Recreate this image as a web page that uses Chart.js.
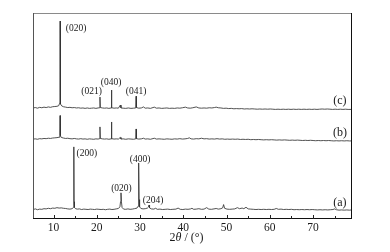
<!DOCTYPE html>
<html lang="en">
<head>
<meta charset="UTF-8" />
<title>XRD patterns</title>
<script src="https://cdn.jsdelivr.net/npm/chart.js@4.4.1/dist/chart.umd.min.js"></script>
<style>
  html, body { margin: 0; padding: 0; background: #fff; }
  #wrap { width: 390px; height: 252px; }
</style>
</head>
<body>
<div id="wrap"><canvas id="xrd"></canvas></div>
<script>
// 2theta range
const angleMin = 5.26;
const angleMax = 79;

// vertical offsets of the stacked patterns (a), (b), (c)
const offsets = [4.4, 38.6, 53.6];
const seriesNames = ["(a)", "(b)", "(c)"];

// pattern (a): [2theta, relative intensity]
const patternA = [
  [5.3,0.2],[5.8,0.5],[6.3,0.1],[6.8,0.4],[7.3,0.3],[7.8,0.6],[8.3,0.5],[8.8,0.8],[9.3,0.6],[9.8,0.9],
  [10.3,0.8],[10.8,1.1],[11.3,0.9],[11.8,1.0],[12.3,0.8],[12.8,0.7],[13.3,0.5],[13.8,0.4],[14.3,0.6],
  [14.6,1.2],[14.68,4],[14.72,30.6],[14.76,4],[14.85,1.2],[15.1,0.6],[15.5,0.4],[16.0,0.5],[16.5,0.2],
  [17.0,0.4],[17.5,0.3],[18.0,0.2],[18.5,0.4],[19.0,0.3],[19.5,0.2],[20.0,0.4],[20.5,0.3],[21.0,0.2],
  [21.5,0.3],[22.0,0.1],[22.5,0.3],[23.0,0.4],[23.5,0.2],[24.0,0.3],[24.5,0.5],[25.0,0.7],[25.35,1.5],
  [25.5,4.0],[25.6,8.3],[25.7,4.0],[25.85,1.2],[26.2,0.4],[26.7,0.3],[27.2,0.5],[27.7,0.3],[28.2,0.4],
  [28.7,0.6],[29.3,0.9],[29.55,1.8],[29.65,6],[29.72,22.8],[29.79,5],[29.9,1.5],[30.2,0.7],[30.7,0.5],
  [31.2,0.6],[31.7,0.9],[31.95,1.4],[32.08,2.4],[32.2,1.0],[32.6,0.5],[33.2,0.4],[33.6,0.8],[34.0,0.3],
  [34.6,0.4],[35.2,0.2],[35.8,0.3],[36.4,0.4],[37.0,0.2],[37.6,0.3],[38.3,0.4],[38.8,0.9],[39.3,0.3],
  [39.9,0.2],[40.5,0.4],[41.1,0.3],[41.7,0.5],[42.0,0.8],[42.4,0.3],[43.0,0.4],[43.6,0.6],[44.2,0.3],
  [44.8,0.4],[45.4,1.1],[45.9,0.4],[46.5,0.3],[47.1,0.5],[47.6,0.7],[48.1,0.4],[48.7,0.6],[49.1,1.0],
  [49.32,2.6],[49.55,0.8],[50.1,0.4],[50.7,0.3],[51.3,0.4],[51.9,0.5],[52.5,1.1],[53.0,0.6],[53.6,0.9],
  [54.0,0.6],[54.5,1.3],[55.0,0.5],[55.6,0.4],[56.2,0.3],[56.8,0.2],[57.4,0.3],[58.0,0.2],[58.6,0.3],
  [59.2,0.2],[59.8,0.3],[60.4,0.2],[61.0,0.3],[61.5,0.7],[62.0,0.3],[62.6,0.4],[63.2,0.2],[63.8,0.3],
  [64.4,0.2],[65.0,0.3],[65.6,0.1],[66.2,0.2],[66.8,0.1],[67.4,0.2],[68.0,0.1],[68.6,0.2],[69.2,0.1],
  [69.8,0.2],[70.4,0.1],[71.0,0.0],[71.6,0.1],[72.2,0.0],[72.8,0.1],[73.4,0.0],[74.0,0.1],[74.6,0.2],
  [75.0,0.5],[75.4,0.1],[76.0,-0.1],[76.6,0.0],[77.2,-0.1],[77.8,0.0],[78.4,-0.1],[79.0,0.0]
];

// pattern (b)
const patternB = [
  [5.3,0.2],[5.8,0.3],[6.3,0.1],[6.8,0.4],[7.3,0.3],[7.8,0.5],[8.3,0.4],[8.8,0.6],[9.3,0.5],[9.8,0.7],
  [10.3,0.8],[10.8,0.9],[11.3,1.1],[11.47,2.0],[11.53,11.6],[11.59,1.8],[11.8,1.0],[12.3,0.7],[12.8,0.5],
  [13.3,0.6],[13.8,0.4],[14.3,0.3],[14.8,0.5],[15.3,0.3],[15.8,0.2],[16.3,0.4],[16.8,0.2],[17.3,0.3],
  [17.8,0.1],[18.3,0.3],[18.8,0.2],[19.3,0.1],[19.8,0.3],[20.3,0.2],[20.65,0.4],[20.74,6.1],[20.83,0.5],
  [21.3,0.3],[21.8,0.2],[22.3,0.3],[22.8,0.1],[23.3,0.3],[23.39,8.5],[23.48,0.4],[24.0,0.2],[24.5,0.3],
  [25.0,0.2],[25.45,1.0],[25.6,0.2],[26.1,0.3],[26.7,0.1],[27.3,0.3],[27.9,0.2],[28.5,0.1],[29.0,0.3],
  [29.09,5.1],[29.18,0.4],[29.7,0.2],[30.3,0.3],[30.8,0.6],[31.2,0.2],[31.8,0.3],[32.4,0.1],[33.3,0.6],
  [33.8,0.2],[34.4,0.3],[35.0,0.2],[35.6,0.1],[36.2,0.3],[36.8,0.2],[37.4,0.1],[38.0,0.3],[38.6,0.2],
  [39.2,0.4],[39.8,0.2],[40.4,0.3],[41.0,0.5],[41.4,0.8],[41.8,0.3],[42.4,0.2],[43.0,0.4],[43.6,0.3],
  [44.2,0.6],[44.8,0.3],[45.4,0.4],[46.0,0.2],[46.6,0.3],[47.2,0.2],[47.8,0.4],[48.4,0.2],[49.0,0.3],
  [49.6,0.1],[50.2,0.2],[50.8,0.1],[51.4,0.2],[52.0,0.1],[52.6,0.2],[53.2,0.0],[53.8,0.1],[54.4,0.0],
  [55.0,0.1],[55.6,-0.1],[56.2,0.0],[56.8,-0.1],[57.4,0.0],[58.0,-0.1],[58.6,-0.2],[59.2,-0.1],
  [59.8,-0.2],[60.4,-0.1],[61.0,-0.2],[61.6,-0.3],[62.2,-0.2],[62.8,-0.3],[63.4,-0.2],[64.0,-0.3],
  [64.6,-0.4],[65.2,-0.3],[65.8,-0.4],[66.4,-0.3],[67.0,-0.4],[67.6,-0.5],[68.2,-0.4],[68.8,-0.5],
  [69.4,-0.4],[70.0,-0.5],[70.6,-0.6],[71.2,-0.5],[71.8,-0.6],[72.4,-0.5],[73.0,-0.6],[73.6,-0.5],
  [74.2,-0.6],[74.8,-0.7],[75.4,-0.6],[76.0,-0.7],[76.6,-0.6],[77.2,-0.7],[77.8,-0.6],[78.4,-0.7],[79.0,-0.7]
];

// pattern (c)
const patternC = [
  [5.3,0.3],[5.8,0.5],[6.3,0.2],[6.8,0.6],[7.3,0.4],[7.8,0.7],[8.3,0.5],[8.8,0.8],[9.3,0.6],[9.8,0.9],
  [10.3,1.0],[10.8,1.1],[11.2,1.4],[11.42,2.6],[11.49,8],[11.53,42.5],[11.57,7],[11.66,2.2],[11.9,1.3],
  [12.3,0.9],[12.8,0.7],[13.3,0.5],[13.8,0.6],[14.3,0.4],[14.8,0.5],[15.3,0.3],[15.8,0.4],[16.3,0.2],
  [16.8,0.3],[17.3,0.1],[17.8,0.3],[18.3,0.1],[18.8,0.2],[19.3,0.3],[19.8,0.1],[20.3,0.3],[20.65,0.4],
  [20.74,5.6],[20.83,0.5],[21.3,0.3],[21.8,0.2],[22.3,0.3],[22.8,0.1],[23.3,0.3],[23.39,9.0],[23.48,0.4],
  [24.0,0.2],[24.5,0.3],[25.0,0.2],[25.45,1.7],[25.6,0.3],[26.1,0.2],[26.7,0.1],[27.3,0.3],[27.9,0.1],
  [28.5,0.2],[29.0,0.3],[29.09,6.0],[29.18,0.5],[29.7,0.2],[30.3,0.3],[30.8,0.8],[31.2,0.2],[31.8,0.3],
  [32.4,0.1],[33.3,0.7],[33.8,0.2],[34.4,0.3],[35.0,0.1],[35.6,0.2],[36.2,0.3],[36.8,0.1],[37.4,0.2],
  [38.0,0.1],[38.6,0.3],[39.2,0.2],[39.8,0.4],[40.5,0.7],[41.0,0.3],[41.6,0.2],[42.2,0.4],[43.0,0.8],
  [43.6,0.3],[44.2,0.2],[44.8,0.3],[45.4,0.2],[46.0,0.4],[46.6,0.3],[47.2,0.5],[47.6,0.7],[48.1,0.4],
  [48.7,0.3],[49.3,0.1],[49.9,0.2],[50.5,0.0],[51.1,0.1],[51.7,-0.1],[52.3,0.0],[52.9,-0.1],[53.5,0.0],
  [54.1,-0.2],[54.7,-0.1],[55.3,-0.2],[55.9,-0.1],[56.5,-0.2],[57.1,-0.3],[57.7,-0.2],[58.3,-0.3],
  [58.9,-0.2],[59.5,-0.3],[60.1,-0.2],[60.7,-0.3],[61.3,-0.4],[61.9,-0.3],[62.5,-0.4],[63.1,-0.3],
  [63.7,-0.4],[64.3,-0.3],[64.9,-0.4],[65.5,-0.3],[66.1,-0.4],[66.7,-0.3],[67.3,-0.4],[67.9,-0.3],
  [68.5,-0.4],[69.1,-0.3],[69.7,-0.4],[70.3,-0.3],[70.9,-0.4],[71.5,-0.3],[72.1,-0.2],[72.7,-0.3],
  [73.3,-0.2],[73.9,-0.3],[74.5,-0.4],[75.1,-0.3],[75.7,-0.4],[76.3,-0.3],[76.9,-0.4],[77.5,-0.3],
  [78.1,-0.4],[79.0,-0.4]
];

// Miller index labels: text, 2theta, level
const peakTexts  = ["(020)", "(021)", "(040)", "(041)", "(200)", "(400)", "(020)", "(204)"];
const peakAngles = [15.2, 18.8, 23.3, 29.1, 17.7, 30.0, 25.7, 33.0];
const peakLevels = [92.7, 61.7, 66.5, 61.7, 31.8, 29.1, 15.0, 9.2];

// series tag labels
const tagAngle = 76.2;
const tagLevels = [7.8, 41.7, 57.3];

const patterns = [patternA, patternB, patternC];
const datasets = patterns.map((p, i) => ({
  label: seriesNames[i],
  data: p.map(([x, y]) => ({ x: x, y: y + offsets[i] })),
  borderColor: "#333",
  borderWidth: 0.85,
  pointRadius: 0,
  tension: 0,
  fill: false
}));

const serif = "'Liberation Serif', 'DejaVu Serif', serif";

const decorations = {
  id: "decorations",
  afterDatasetsDraw(chart) {
    const { ctx, chartArea: a, scales } = chart;
    const xs = scales.x, ys = scales.y;
    ctx.save();

    // frame
    ctx.lineWidth = 1;
    ctx.strokeStyle = "#8a8a8a";
    ctx.beginPath(); ctx.moveTo(a.left, a.top + 0.5); ctx.lineTo(a.right, a.top + 0.5); ctx.stroke();
    ctx.strokeStyle = "#555";
    ctx.beginPath(); ctx.moveTo(a.left + 0.5, a.top); ctx.lineTo(a.left + 0.5, a.bottom); ctx.stroke();
    ctx.strokeStyle = "#111";
    ctx.beginPath(); ctx.moveTo(a.right - 0.5, a.top); ctx.lineTo(a.right - 0.5, a.bottom); ctx.stroke();
    ctx.beginPath(); ctx.moveTo(a.left, a.bottom - 0.5); ctx.lineTo(a.right, a.bottom - 0.5); ctx.stroke();

    // inward ticks every 5 degrees
    ctx.strokeStyle = "#222";
    for (let v = 10; v <= 75; v += 5) {
      const px = Math.round(xs.getPixelForValue(v)) + 0.5;
      const len = v % 10 === 0 ? 4 : 3;
      ctx.beginPath(); ctx.moveTo(px, a.bottom); ctx.lineTo(px, a.bottom - len); ctx.stroke();
    }

    // peak labels
    ctx.fillStyle = "#1a1a1a";
    ctx.textAlign = "center";
    ctx.textBaseline = "middle";
    ctx.font = "9.5px " + serif;
    peakTexts.forEach((t, i) => {
      ctx.fillText(t, xs.getPixelForValue(peakAngles[i]), ys.getPixelForValue(peakLevels[i]));
    });

    // series tags
    ctx.font = "12px " + serif;
    seriesNames.forEach((t, i) => {
      ctx.fillText(t, xs.getPixelForValue(tagAngle), ys.getPixelForValue(tagLevels[i]));
    });

    // axis title: 2θ / (°) with italic theta
    const parts = [["2", ""], ["θ", "italic "], [" / (°)", ""]];
    ctx.textAlign = "left";
    let total = 0;
    parts.forEach(([s, st]) => { ctx.font = st + "12px " + serif; total += ctx.measureText(s).width; });
    let x = (a.left + a.right) / 2 - 6 - total / 2;
    const y = 238;
    parts.forEach(([s, st]) => {
      ctx.font = st + "12px " + serif;
      ctx.fillText(s, x, y);
      x += ctx.measureText(s).width;
    });
    ctx.restore();
  }
};

new Chart(document.getElementById("xrd"), {
  type: "line",
  data: { datasets },
  options: {
    responsive: true,
    maintainAspectRatio: false,
    animation: false,
    layout: { padding: { left: 33, right: 38, top: 13, bottom: 0 } },
    plugins: { legend: { display: false }, tooltip: { enabled: false } },
    scales: {
      x: {
        type: "linear",
        min: angleMin,
        max: angleMax,
        border: { display: false },
        grid: { display: false, drawTicks: false },
        ticks: {
          stepSize: 10,
          includeBounds: false,
          padding: 2,
          maxRotation: 0,
          color: "#1a1a1a",
          font: { family: serif, size: 11.5 }
        },
        afterFit(scale) { scale.height = 33; }
      },
      y: {
        display: false,
        min: 0,
        max: 100
      }
    }
  },
  plugins: [decorations]
});
</script>
</body>
</html>
